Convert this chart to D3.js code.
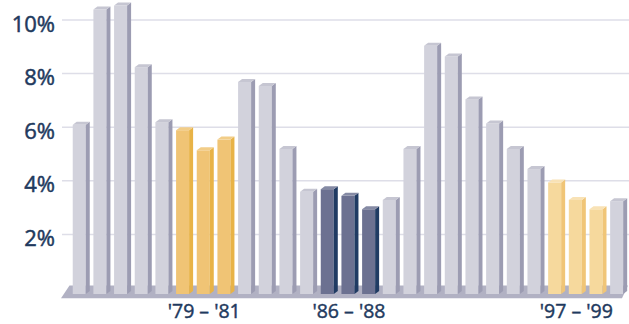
<!DOCTYPE html>
<html><head><meta charset="utf-8">
<script src="https://cdn.jsdelivr.net/npm/d3@7"></script>
<style>html,body{margin:0;padding:0;background:#fff;}svg{display:block;}</style>
</head><body>
<svg id="chart" width="629" height="324"></svg>
<script>
const years = d3.range(1974, 2001);
const values = [6.2, 10.5, 10.65, 8.35, 6.3, 6.0, 5.25, 5.65, 7.8, 7.65, 5.3, 3.7, 3.8, 3.55, 3.05, 3.4, 5.3, 9.15, 8.75, 7.15, 6.25, 5.3, 4.55, 4.05, 3.4, 3.05, 3.35];
const groupYears = [[1979, 1980, 1981], [1986, 1987, 1988], [1997, 1998, 1999]];
const groupKeys = ["gold", "navy", "pale"];
const groupLabels = ["'79 – '81", "'86 – '88", "'97 – '99"];
const yTicks = [2, 4, 6, 8, 10];

const palette = {
  base: {front: "#d2d2dc", side: "#9c9cb2", top: "#c6c6d2"},
  gold: {front: "#f0c475", side: "#e8b347", top: "#f2cd88"},
  navy: {front: "#6c7191", side: "#203b63", top: "#858aa4"},
  pale: {front: "#f6d99d", side: "#f0c577", top: "#f8e2b6"}
};
function keyOf(y) {
  for (let i = 0; i < groupYears.length; i++) if (groupYears[i].includes(y)) return groupKeys[i];
  return "base";
}

const svg = d3.select("#chart");
const x = d3.scaleBand().domain(years).range([65.5, 630.4]).paddingInner(0.37).paddingOuter(0.35);
const y = d3.scaleLinear().domain([0, 10]).range([288, 20]);
const dx = 4, dy = 3, floorFront = 294;
const textColor = "#1f3a5e";

// gridlines
svg.append("g").selectAll("line").data(yTicks).join("line")
  .attr("x1", 62).attr("x2", 629)
  .attr("y1", d => y(d)).attr("y2", d => y(d))
  .attr("stroke", "#dedee8").attr("stroke-width", 1.5);

// y labels
svg.append("g").selectAll("text").data(yTicks).join("text")
  .attr("x", 55).attr("y", d => y(d) + 2.5)
  .attr("text-anchor", "end").attr("dominant-baseline", "central")
  .attr("font-family", "'Open Sans', sans-serif").attr("font-size", 22)
  .attr("fill", textColor).attr("stroke", textColor).attr("stroke-width", 0.5)
  .text(d => d + "%");

// floor
svg.append("polygon")
  .attr("points", [[69.5, 285.5], [628, 285.5], [622, 298.3], [61, 298.3]].map(p => p.join(",")).join(" "))
  .attr("fill", "#b1b1c3");

// bars
const data = years.map((yr, i) => ({yr, v: values[i], k: keyOf(yr)}));
const bw = x.bandwidth();
const g = svg.append("g").selectAll("g").data(data).join("g");
g.append("rect")
  .attr("x", d => x(d.yr)).attr("y", d => y(d.v) + dy)
  .attr("width", bw).attr("height", d => floorFront - (y(d.v) + dy))
  .attr("fill", d => palette[d.k].front);
g.append("polygon")
  .attr("points", d => {
    const x0 = x(d.yr) + bw, t = y(d.v);
    return [[x0, t + dy], [x0 + dx, t], [x0 + dx, floorFront - dy], [x0, floorFront]].map(p => p.join(",")).join(" ");
  })
  .attr("fill", d => palette[d.k].side);
g.append("polygon")
  .attr("points", d => {
    const x0 = x(d.yr), t = y(d.v);
    return [[x0, t + dy], [x0 + dx, t], [x0 + bw + dx, t], [x0 + bw, t + dy]].map(p => p.join(",")).join(" ");
  })
  .attr("fill", d => palette[d.k].top);

// group labels
svg.append("g").selectAll("text").data(groupLabels).join("text")
  .attr("x", (d, i) => x(groupYears[i][1]) + bw / 2 + 1)
  .attr("y", 318)
  .attr("text-anchor", "middle")
  .attr("font-family", "'Open Sans', sans-serif").attr("font-size", 19.5)
  .attr("fill", textColor).attr("stroke", textColor).attr("stroke-width", 0.45)
  .text(d => d);
</script>
</body></html>
